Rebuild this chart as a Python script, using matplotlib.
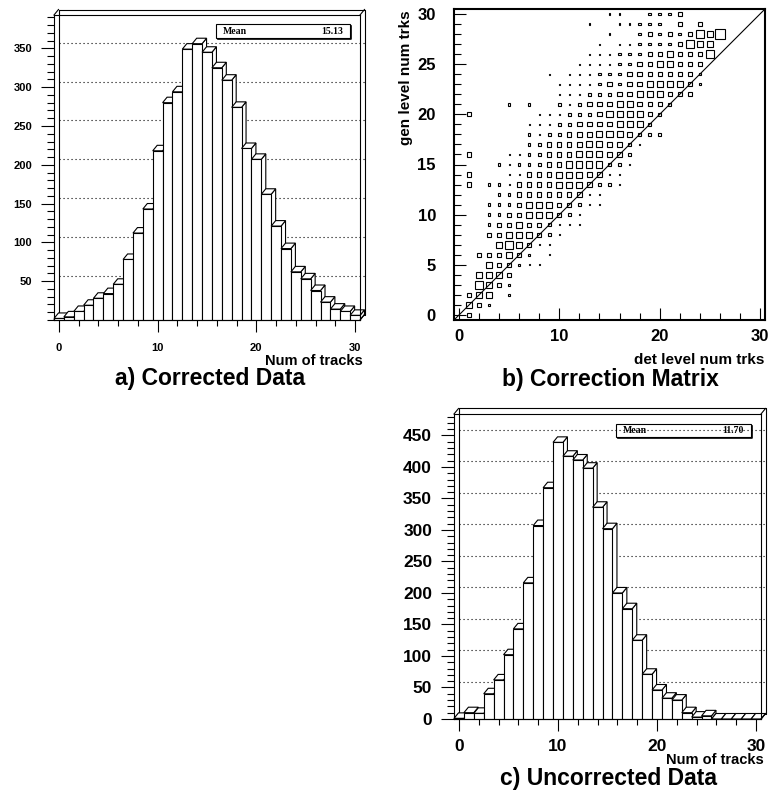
import numpy as np
import matplotlib
matplotlib.use("Agg")
import matplotlib.pyplot as plt
from matplotlib.patches import Polygon, Rectangle
from matplotlib.ticker import MultipleLocator

W, H = 768, 791
plt.rcParams["font.family"] = ["Liberation Sans", "DejaVu Sans"]
plt.rcParams["font.weight"] = "bold"

# track multiplicity, one entry per bin 0..30
ntrk = np.arange(31)
corrected = [2, 4, 11, 19, 28, 34, 46, 78, 112, 143, 218, 280, 294, 349, 356,
             345, 325, 309, 274, 221, 207, 162, 121, 92, 62, 53, 38, 23, 14, 11, 6]
uncorrected = [1, 10, 9, 40, 62, 102, 143, 216, 307, 367, 439, 417, 411, 398, 336,
               302, 200, 175, 125, 71, 46, 33, 30, 10, 3, 5, 0, 0, 0, 0, 0]
mean_corrected = "15.13"
mean_uncorrected = "11.70"

# correction matrix: one string per gen level bin (0..30),
# one digit per det level bin (0..30) giving the box size class
corr_rows = [
    "0300000000 0000000000 0000000000 0",
    "0432000000 0000000000 0000000000 0",
    "0344020000 0000000000 0000000000 0",
    "0054320000 0000000000 0000000000 0",
    "0044430000 0000000000 0000000000 0",
    "0004332110 0000000000 0000000000 0",
    "0033343201 0000000000 0000000000 0",
    "0000454311 0000000000 0000000000 0",
    "0003344432 1000000000 0000000000 0",
    "0002334332 1110000000 0000000000 0",
    "0002233444 3210000000 0000000000 0",
    "0002223444 3321100000 0000000000 0",
    "0000223333 3331100000 0000000000 0",
    "0302213333 4443221000 0000000000 0",
    "0300011333 4443311000 0000000000 0",
    "0000212223 3444422100 0000000000 0",
    "0300011223 3344433200 0000000000 0",
    "0000000223 3334433210 0000000000 0",
    "0000000212 2333444322 2000000000 0",
    "0000000111 2233334442 0000000000 0",
    "0300000011 1222344443 2000000000 0",
    "0000020200 2123334433 3200000000 0",
    "0000000000 1112223344 4333000000 0",
    "0000000000 1111232334 4443200000 0",
    "0000000001 0111222333 3333200000 0",
    "0000000000 0011112233 4433300000 0",
    "0000000000 0001112223 3433350000 0",
    "0000000000 0000101122 2235440000 0",
    "0000000000 0000010023 2323546000 0",
    "0000000000 0001001122 2030300000 0",
    "0000000000 0000011002 2230000000 0",
]
box_side = [0, 0.12, 0.25, 0.42, 0.6, 0.75, 0.95]

LW = 0.8
fig = plt.figure(figsize=(W / 100, H / 100), dpi=100)


def px_rect(l, t, r, b):
    return [l / W, 1 - b / H, (r - l) / W, (b - t) / H]


def fig_text(x, y, s, **kw):
    fig.text(x / W, 1 - y / H, s, **kw)


def stats_box(ax, l, t, r, b, value):
    tr = fig.transFigure
    ax.add_patch(Rectangle((l / W, 1 - b / H), (r - l) / W, (b - t) / H,
                           transform=tr, fc="white", ec="k", lw=LW,
                           clip_on=False, zorder=0.5))
    ax.plot([(l + 2) / W, (r + 1) / W, (r + 1) / W],
            [1 - (b + 1) / H, 1 - (b + 1) / H, 1 - (t + 2) / H],
            transform=tr, color="k", lw=1.2, clip_on=False, zorder=0.5)
    yc = 1 - (t + b) / 2 / H
    font = dict(family=["Liberation Serif", "DejaVu Serif"], size=7,
                weight="bold", va="center", transform=tr, zorder=0.6)
    ax.text((l + 7) / W, yc, "Mean", ha="left", **font)
    ax.text((r - 7) / W, yc, value, ha="right", **font)


def hist3d(ax, counts, ymax, labelsize, xpad, ypad, dx_px=4.5, dy_px=5.5):
    ax.set_xlim(-0.5, 30.5)
    ax.set_ylim(0, ymax)
    bb = ax.get_position()
    ddx = dx_px / (bb.width * W / 31.0)
    ddy = dy_px / (bb.height * H / ymax)
    x0, x1 = -0.5, 30.5

    # dotted grid on the back wall
    for v in range(50, int(ymax), 50):
        ax.plot([x0 + ddx, x1 + ddx], [v + ddy, v + ddy], color="k", lw=LW,
                ls=(0, (1, 2.6)), clip_on=False, zorder=1)

    # back wall and floor edges
    back = dict(color="k", lw=LW, clip_on=False, zorder=1.5)
    ax.plot([x0 + ddx, x0 + ddx, x1 + ddx, x1 + ddx, x0 + ddx],
            [ddy, ymax + ddy, ymax + ddy, ddy, ddy], **back)
    ax.plot([x0, x0 + ddx], [0, ddy], **back)

    # bars, left to right so nearer bars overdraw
    for n, h in zip(ntrk, counts):
        a, b = n - 0.5, n + 0.5
        style = dict(fc="white", ec="k", lw=LW, zorder=2, clip_on=False)
        ax.add_patch(Polygon([(b, 0), (b + ddx, ddy), (b + ddx, h + ddy), (b, h)], **style))
        ax.add_patch(Polygon([(a, h), (a + ddx, h + ddy), (b + ddx, h + ddy), (b, h)], **style))
        ax.add_patch(Rectangle((a, 0), 1, h, **style))

    # front-to-back connectors of the frame
    front = dict(color="k", lw=LW, clip_on=False, zorder=3)
    ax.plot([x0, x0 + ddx], [ymax, ymax + ddy], **front)
    ax.plot([x1, x1 + ddx], [ymax, ymax + ddy], **front)
    ax.plot([x1, x1 + ddx], [0, ddy], **front)

    for sp in ax.spines.values():
        sp.set_linewidth(LW)
        sp.set_zorder(3)

    ax.set_xticks([0, 10, 20, 30])
    ax.xaxis.set_minor_locator(MultipleLocator(2))
    ax.yaxis.set_minor_locator(MultipleLocator(10))
    ax.tick_params(axis="x", which="major", direction="out", length=8.6,
                   width=LW, pad=xpad, labelsize=labelsize)
    ax.tick_params(axis="x", which="minor", direction="out", length=4.3, width=LW)
    ax.tick_params(axis="y", which="major", direction="out", length=9.4,
                   width=LW, pad=ypad, labelsize=labelsize)
    ax.tick_params(axis="y", which="minor", direction="out", length=5, width=LW)


# a) corrected data
ax_a = fig.add_axes(px_rect(54, 15, 360, 320))
hist3d(ax_a, corrected, 393, 8, 8.0, 6.4)
ax_a.set_yticks(range(50, 351, 50))
stats_box(ax_a, 216, 24, 350, 38, mean_corrected)
fig_text(363, 361, "Num of tracks", ha="right", va="center", size=10.5)
fig_text(210, 379, "a) Corrected Data", ha="center", va="center", size=16.5)

# c) uncorrected data
ax_c = fig.add_axes(px_rect(454, 414, 761, 719))
hist3d(ax_c, uncorrected, 484, 12.5, 5.7, 6.4)
ax_c.set_yticks(range(0, 451, 50))
stats_box(ax_c, 616, 424, 751, 437, mean_uncorrected)
fig_text(764, 760, "Num of tracks", ha="right", va="center", size=10.5)
fig_text(609, 778, "c) Uncorrected Data", ha="center", va="center", size=16.5)

# b) correction matrix
ax_b = fig.add_axes(px_rect(454, 9, 765, 320))
ax_b.set_xlim(-0.5, 30.5)
ax_b.set_ylim(-0.5, 30.5)
for gen, row in enumerate(corr_rows):
    for det, code in enumerate(row.replace(" ", "")):
        s = box_side[int(code)]
        if s:
            ax_b.add_patch(Rectangle((det - s / 2, gen - s / 2), s, s,
                                     fill=False, ec="k", lw=LW))
ax_b.plot([-0.5, 30.5], [-0.5, 30.5], color="k", lw=LW)
for sp in ax_b.spines.values():
    sp.set_linewidth(1.5)
ax_b.set_xticks([0, 10, 20, 30])
ax_b.set_yticks(range(0, 31, 5))
ax_b.xaxis.set_minor_locator(MultipleLocator(2))
ax_b.yaxis.set_minor_locator(MultipleLocator(1))
ax_b.tick_params(axis="x", which="major", direction="in", length=8.6,
                 width=LW, pad=6.5, labelsize=12)
ax_b.tick_params(axis="y", which="major", direction="in", length=8.6,
                 width=LW, pad=13, labelsize=12)
ax_b.tick_params(which="minor", direction="in", length=5, width=LW)
fig_text(764, 360, "det level num trks", ha="right", va="center", size=11)
fig_text(406, 10, "gen level num trks", ha="center", va="top", size=11,
         rotation=90)
fig_text(610, 380, "b) Correction Matrix", ha="center", va="center", size=16.5)

fig.savefig("out.png", dpi=100)
